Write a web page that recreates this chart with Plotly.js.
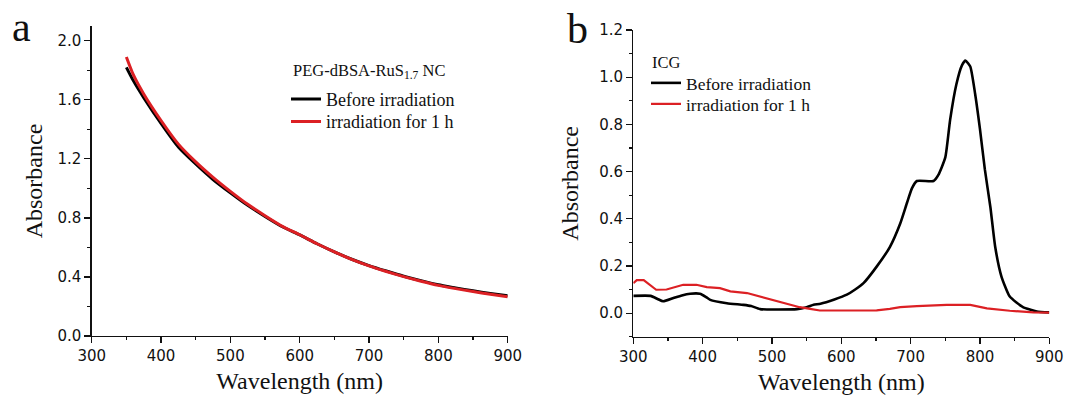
<!DOCTYPE html>
<html>
<head>
<meta charset="utf-8">
<script src="https://cdn.plot.ly/plotly-3.0.1.min.js"></script>
<style>html,body{margin:0;padding:0;background:#fff;}#chart{width:1065px;height:401px;}</style>
</head>
<body>
<div id="chart"></div>
<script>
// Panel a: PEG-dBSA-RuS1.7 NC
const aWavelength = [350, 360, 375, 400, 425, 450, 475, 500, 525, 550, 575, 600, 625, 650, 675, 700, 725, 750, 775, 800, 825, 850, 875, 900];
const aBefore     = [1.82, 1.73, 1.615, 1.44, 1.28, 1.165, 1.06, 0.97, 0.885, 0.81, 0.74, 0.685, 0.625, 0.57, 0.52, 0.477, 0.44, 0.405, 0.375, 0.347, 0.326, 0.306, 0.288, 0.272];
const aAfter      = [1.89, 1.77, 1.64, 1.46, 1.30, 1.18, 1.075, 0.98, 0.892, 0.815, 0.743, 0.686, 0.625, 0.57, 0.519, 0.475, 0.437, 0.402, 0.371, 0.343, 0.321, 0.301, 0.283, 0.266];

// Panel b: ICG
const bWavelengthBefore = [300, 325, 335, 343, 358, 370, 382, 396, 405, 411, 435, 459, 470, 483, 536, 550, 560, 570, 590, 608, 620, 632, 651, 670, 685, 695, 702, 709, 733, 740, 750, 757, 766, 774, 779, 786, 793, 800, 807, 815, 822, 831, 843, 862, 882, 900];
const bBefore           = [0.073, 0.073, 0.060, 0.050, 0.064, 0.075, 0.082, 0.082, 0.068, 0.056, 0.042, 0.035, 0.030, 0.017, 0.017, 0.025, 0.035, 0.040, 0.058, 0.078, 0.100, 0.127, 0.197, 0.280, 0.380, 0.470, 0.530, 0.560, 0.560, 0.586, 0.660, 0.820, 0.970, 1.050, 1.070, 1.045, 0.930, 0.780, 0.610, 0.450, 0.280, 0.155, 0.070, 0.025, 0.007, 0.003];
const bWavelengthAfter  = [300, 305, 315, 322, 333, 348, 360, 372, 391, 400, 406, 425, 440, 464, 483, 500, 512, 540, 555, 569, 600, 651, 670, 685, 709, 752, 786, 800, 810, 843, 877, 900];
const bAfter            = [0.127, 0.140, 0.140, 0.125, 0.099, 0.100, 0.110, 0.120, 0.120, 0.113, 0.110, 0.106, 0.092, 0.085, 0.070, 0.055, 0.045, 0.025, 0.018, 0.011, 0.011, 0.012, 0.018, 0.025, 0.030, 0.035, 0.035, 0.027, 0.020, 0.010, 0.003, 0.002];

const seriesNames = ['Before irradiation', 'irradiation for 1 h'];
const legendTitleA = 'PEG-dBSA-RuS<sub>1.7</sub> NC';
const legendTitleB = 'ICG';
const panelLabels = ['a', 'b'];
const xTitle = 'Wavelength (nm)';
const yTitle = 'Absorbance';

const BLACK = '#000000';
const RED = 'rgb(220,32,36)';
const SERIF = 'Liberation Serif, Times New Roman, serif';
const SANS = 'DejaVu Sans, Arial, sans-serif';

const W = 1065, H = 401;
const fx = p => p / W;
const fy = p => 1 - p / H;

const traces = [
  {x: aWavelength, y: aBefore, name: seriesNames[0], mode: 'lines', line: {color: BLACK, width: 3, shape: 'spline', smoothing: 0.6}, xaxis: 'x', yaxis: 'y', legend: 'legend'},
  {x: aWavelength, y: aAfter, name: seriesNames[1], mode: 'lines', line: {color: RED, width: 3, shape: 'spline', smoothing: 0.6}, xaxis: 'x', yaxis: 'y', legend: 'legend2'},
  {x: bWavelengthBefore, y: bBefore, name: seriesNames[0], mode: 'lines', line: {color: BLACK, width: 2.6, shape: 'spline', smoothing: 0.5}, xaxis: 'x2', yaxis: 'y2', legend: 'legend3'},
  {x: bWavelengthAfter, y: bAfter, name: seriesNames[1], mode: 'lines', line: {color: RED, width: 2.2}, xaxis: 'x2', yaxis: 'y2', legend: 'legend4'}
];

function xAxis(domain, anchor) {
  return {
    domain: domain, anchor: anchor, range: [300, 900], dtick: 100, tick0: 300,
    showgrid: false, zeroline: false, showline: true, linecolor: '#111', linewidth: 1.3,
    ticks: 'outside', ticklen: 6, tickwidth: 1.2, tickcolor: '#111',
    minor: {ticks: 'outside', ticklen: 3, dtick: 50, tickwidth: 1.1, tickcolor: '#111'},
    tickfont: {family: SANS, size: 15, color: '#111'},
    title: {text: xTitle, font: {family: SERIF, size: 24, color: '#111'}, standoff: 8},
    fixedrange: true
  };
}
function yAxis(domain, anchor, range, dtick, standoff) {
  return {
    domain: domain, anchor: anchor, range: range, dtick: dtick, tick0: 0, tickformat: '.1f',
    showgrid: false, zeroline: false, showline: true, linecolor: '#111', linewidth: 1.3,
    ticks: 'outside', ticklen: 6, tickwidth: 1.2, tickcolor: '#111',
    minor: {ticks: 'outside', ticklen: 3, dtick: dtick / 2, tickwidth: 1.1, tickcolor: '#111'},
    tickfont: {family: SANS, size: 15, color: '#111'},
    title: {text: yTitle, font: {family: SERIF, size: 24, color: '#111'}, standoff: standoff},
    fixedrange: true
  };
}
function legendAt(lineStartPx, centerPx, size) {
  return {
    x: fx(lineStartPx - 6), y: fy(centerPx), xanchor: 'left', yanchor: 'middle',
    bgcolor: 'rgba(0,0,0,0)', borderwidth: 0,
    font: {family: SERIF, size: size, color: '#111'},
    itemwidth: 30
  };
}

const layout = {
  width: W, height: H,
  margin: {l: 0, r: 0, t: 0, b: 0},
  paper_bgcolor: '#fff', plot_bgcolor: 'rgba(0,0,0,0)',
  showlegend: true,
  xaxis: xAxis([fx(91.7), fx(507.7)], 'y'),
  yaxis: yAxis([fy(336), fy(26)], 'x', [0, 2.1], 0.4, 8),
  xaxis2: xAxis([fx(633.3), fx(1049.3)], 'y2'),
  yaxis2: yAxis([fy(336.7), fy(30)], 'x2', [-0.1, 1.2], 0.2, 13),
  legend: legendAt(292, 99.3, 18),
  legend2: legendAt(292, 121.7, 18),
  legend3: legendAt(652, 83, 17.5),
  legend4: legendAt(652, 104, 17.5),
  annotations: [
    {text: legendTitleA, xref: 'paper', yref: 'paper', x: fx(291), y: fy(71), xanchor: 'left', yanchor: 'middle', showarrow: false, font: {family: SERIF, size: 16.5, color: '#111'}},
    {text: legendTitleB, xref: 'paper', yref: 'paper', x: fx(650), y: fy(62), xanchor: 'left', yanchor: 'middle', showarrow: false, font: {family: SERIF, size: 16.5, color: '#111'}},
    {text: panelLabels[0], xref: 'paper', yref: 'paper', x: fx(10), y: fy(2), xanchor: 'left', yanchor: 'top', showarrow: false, font: {family: SERIF, size: 42, color: '#111'}},
    {text: panelLabels[1], xref: 'paper', yref: 'paper', x: fx(565), y: fy(4), xanchor: 'left', yanchor: 'top', showarrow: false, font: {family: SERIF, size: 42, color: '#111'}}
  ]
};

Plotly.newPlot('chart', traces, layout, {displayModeBar: false, staticPlot: true});
</script>
</body>
</html>
